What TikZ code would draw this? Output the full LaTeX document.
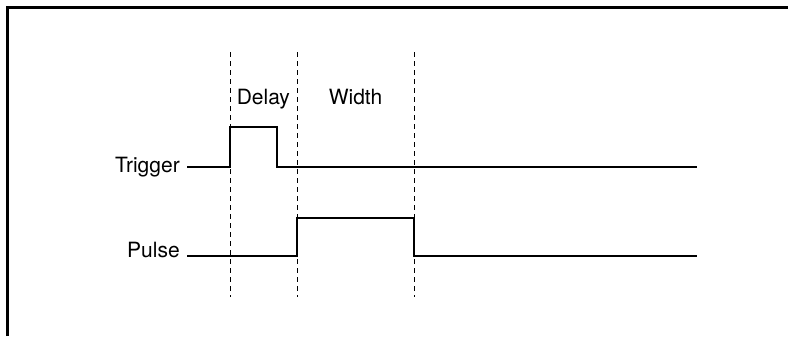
\documentclass[tikz,border=0pt]{standalone}
\usepackage{fontspec}
\setmainfont{TeX Gyre Heros}
\usetikzlibrary{positioning}
\tikzset{
    MyFrame/.style={line width=1.7pt},
    MySignal/.style={line width=0.8pt,line join=miter},
    MyMarker/.style={line width=0.7pt,dash pattern=on 3.75pt off 3pt},
    MyLabel/.style={font=\fontsize{15.75}{18}\selectfont,inner sep=0pt}
}

\begin{document}
\begin{tikzpicture}[x=0.75pt,y=-0.75pt]
    \def\tDelay{230}% rising edge of the trigger
    \def\tFall{277}% falling edge of the trigger
    \def\tWidth{297}% rising edge of the pulse
    \def\tEnd{414}% falling edge of the pulse
    \def\tStop{697}

    \def\yTrig{167}
    \def\yTrigHi{127}
    \def\yPulse{256}
    \def\yPulseHi{218}

    \useasboundingbox (0,0) rectangle (788,336);
    \draw[MyFrame] (7.5,336) -- (7.5,7.5) -- (788,7.5);

    \foreach \t in {\tDelay,\tWidth,\tEnd}
        \draw[MyMarker] (\t,52) -- (\t,297);

    \node[MyLabel,anchor=base east] (trig) at (180,172.5) {Trigger};
    \node[MyLabel,anchor=base east] (pulse) at (180,257.5) {Pulse};
    \node[MyLabel,anchor=base west] (delay) at (236.5,104.3) {Delay};
    \node[MyLabel,anchor=base west] (width) at (328.5,104.3) {Width};

    \draw[MySignal] (187,\yTrig) -- (\tDelay,\yTrig) -- (\tDelay,\yTrigHi)
        -- (\tFall,\yTrigHi) -- (\tFall,\yTrig) -- (\tStop,\yTrig);
    \draw[MySignal] (187,\yPulse) -- (\tWidth,\yPulse) -- (\tWidth,\yPulseHi)
        -- (\tEnd,\yPulseHi) -- (\tEnd,\yPulse) -- (\tStop,\yPulse);
\end{tikzpicture}
\end{document}
